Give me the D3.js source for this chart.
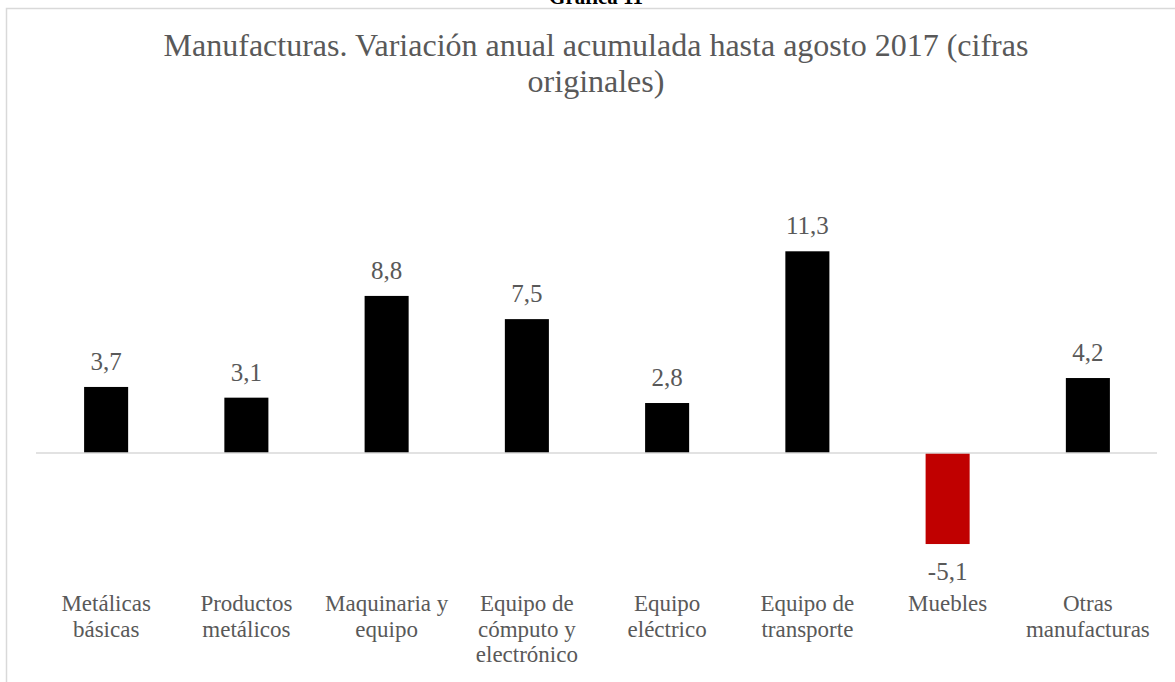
<!DOCTYPE html>
<html><head><meta charset="utf-8">
<script src="https://cdn.jsdelivr.net/npm/d3@7"></script>
<style>
html,body{margin:0;padding:0;background:#fff;overflow:hidden;}
text{font-family:"Liberation Serif","Times New Roman",serif;}
</style></head>
<body><svg id="c" width="1175" height="682"></svg>
<script>
const categories = ["Metálicas básicas","Productos metálicos","Maquinaria y equipo","Equipo de cómputo y electrónico","Equipo eléctrico","Equipo de transporte","Muebles","Otras manufacturas"];
const categoryLines = [["Metálicas","básicas"],["Productos","metálicos"],["Maquinaria y","equipo"],["Equipo de","cómputo y","electrónico"],["Equipo","eléctrico"],["Equipo de","transporte"],["Muebles"],["Otras","manufacturas"]];
const values = [3.7, 3.1, 8.8, 7.5, 2.8, 11.3, -5.1, 4.2];
const valueLabels = ["3,7","3,1","8,8","7,5","2,8","11,3","-5,1","4,2"];
const yDomain = [-8, 12];
const titleLines = ["Manufacturas. Variación anual acumulada hasta agosto 2017 (cifras","originales)"];
const heading = "Gráfica 11";

const svg = d3.select("#c");
const textColor = "#595959";

// chart border
svg.append("rect").attr("x",6.5).attr("y",8.5).attr("width",1200).attr("height",700)
  .attr("fill","none").attr("stroke","#d9d9d9").attr("stroke-width",1.5);

svg.append("text").attr("x",596).attr("y",4).attr("text-anchor","middle")
  .attr("font-size",21).attr("font-weight","bold").attr("fill","#000").text(heading);

const x = d3.scaleBand().domain(categories).range([36,1158]).paddingInner(0.686).paddingOuter(0.343);
const y = d3.scaleLinear().domain(yDomain).range([595.8,238.8]);

svg.append("g").selectAll("text").data(titleLines).join("text")
  .attr("x",596).attr("y",(d,i)=>56+i*36).attr("text-anchor","middle")
  .attr("font-size",32).attr("fill",textColor).text(d=>d);

svg.append("g").selectAll("rect").data(values).join("rect")
  .attr("x",(d,i)=>x(categories[i]))
  .attr("y",d=>y(Math.max(0,d)))
  .attr("width",x.bandwidth())
  .attr("height",d=>Math.abs(y(d)-y(0)))
  .attr("fill",d=>d<0?"#c00000":"#000");

svg.append("line").attr("x1",36).attr("x2",1157).attr("y1",y(0)).attr("y2",y(0))
  .attr("stroke","#d9d9d9").attr("stroke-width",1.5);

svg.append("g").selectAll("text").data(values).join("text")
  .attr("x",(d,i)=>x(categories[i])+x.bandwidth()/2)
  .attr("y",d=>d>=0 ? y(d)-17 : y(d)+36)
  .attr("text-anchor","middle").attr("font-size",25).attr("fill",textColor)
  .text((d,i)=>valueLabels[i]);

const lab = svg.append("g").selectAll("text").data(categoryLines).join("text")
  .attr("text-anchor","middle").attr("font-size",23).attr("fill",textColor)
  .attr("transform",(d,i)=>`translate(${x(categories[i])+x.bandwidth()/2},611)`);
lab.selectAll("tspan").data(d=>d).join("tspan")
  .attr("x",0).attr("y",(d,i)=>i*25.5).text(d=>d);
</script></body></html>
